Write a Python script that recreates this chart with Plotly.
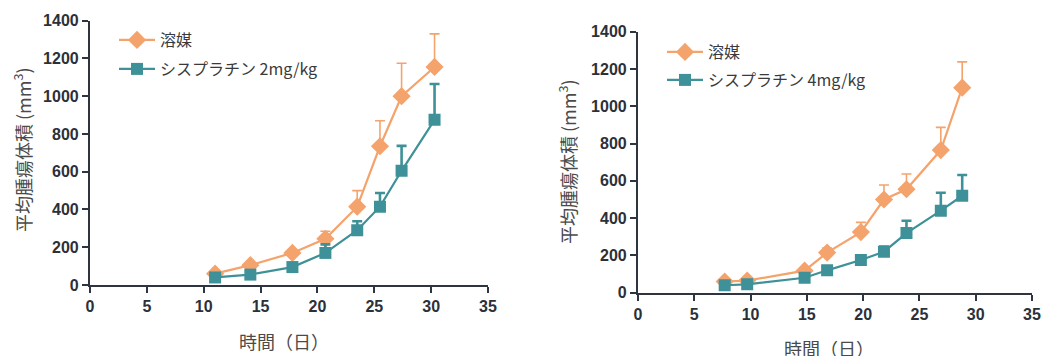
import plotly.graph_objects as go

# Tumour volume (mm^3) over time (days): mean with upper SEM bars
days_a = [11.0, 14.1, 17.8, 20.7, 23.5, 25.5, 27.4, 30.3]
vehicle_a = [60, 105, 170, 245, 415, 735, 1000, 1155]
vehicle_a_err = [0, 0, 0, 40, 85, 135, 175, 175]
cis2_a = [40, 55, 95, 170, 290, 415, 605, 875]
cis2_a_err = [0, 0, 0, 45, 48, 72, 132, 190]

days_b = [7.7, 9.7, 14.8, 16.8, 19.8, 21.85, 23.85, 26.9, 28.8]
vehicle_b = [60, 65, 118, 215, 325, 500, 555, 765, 1100]
vehicle_b_err = [0, 0, 0, 25, 52, 78, 82, 122, 138]
cis4_b = [40, 45, 80, 120, 175, 220, 320, 440, 520]
cis4_b_err = [0, 0, 0, 0, 20, 28, 66, 96, 111]

x_ticks = [0, 5, 10, 15, 20, 25, 30, 35]
y_ticks = [0, 200, 400, 600, 800, 1000, 1200, 1400]

ORANGE = "#F5A36C"
TEAL = "#3E9198"
AXIS = "#2E3440"
W, H = 1044, 356
FONT = "Noto Sans CJK JP, Liberation Sans, sans-serif"
TICKFONT = dict(family="Liberation Sans, Arial, sans-serif", size=16, color="#2C3038", weight="bold")


def px(x):
    return x / W


def py(y):
    return 1 - y / H


def series(x, y, err, color, symbol, size, thick, name, xa, ya, legend):
    return go.Scatter(
        x=x, y=y, name=name, mode="lines+markers",
        xaxis=xa, yaxis=ya, legend=legend, showlegend=True,
        line=dict(color=color, width=2.2),
        marker=dict(color=color, symbol=symbol, size=size),
        error_y=dict(type="data", symmetric=False, array=err,
                     arrayminus=[0] * len(err), color=color,
                     thickness=thick, width=5),
    )


fig = go.Figure()
fig.add_trace(series(days_a, vehicle_a, vehicle_a_err, ORANGE, "diamond", 14, 1.6, "溶媒", "x", "y", "legend"))
fig.add_trace(series(days_a, cis2_a, cis2_a_err, TEAL, "square", 12, 2.6, "シスプラチン 2mg/kg", "x", "y", "legend2"))
fig.add_trace(series(days_b, vehicle_b, vehicle_b_err, ORANGE, "diamond", 14, 1.6, "溶媒", "x2", "y2", "legend3"))
fig.add_trace(series(days_b, cis4_b, cis4_b_err, TEAL, "square", 12, 2.6, "シスプラチン 4mg/kg", "x2", "y2", "legend4"))

axis_common = dict(
    showline=True, linecolor=AXIS, linewidth=2.2, ticks="outside",
    ticklen=6, tickwidth=2.2, tickcolor=AXIS, showgrid=False, zeroline=False,
    tickfont=TICKFONT, automargin=False,
)

fig.update_layout(
    width=W, height=H,
    margin=dict(l=0, r=0, t=0, b=0, autoexpand=False),
    showlegend=True,
    paper_bgcolor="white", plot_bgcolor="white",
    font=dict(family=FONT, color="#333"),
    xaxis=dict(domain=[px(90), px(488)], range=[0, 35], tickvals=x_ticks,
               anchor="y", **axis_common),
    yaxis=dict(domain=[py(285), py(20.7)], range=[0, 1400], tickvals=y_ticks,
               anchor="x", **axis_common),
    xaxis2=dict(domain=[px(638), px(1032)], range=[0, 35], tickvals=x_ticks,
                anchor="y2", **axis_common),
    yaxis2=dict(domain=[py(292.7), py(31.7)], range=[0, 1400], tickvals=y_ticks,
                anchor="x2", **axis_common),
)

legend_style = dict(xanchor="left", yanchor="middle", bgcolor="rgba(0,0,0,0)",
                    borderwidth=0, font=dict(family=FONT, size=16, color="#3A3A3A"),
                    itemsizing="trace", itemwidth=36, visible=True)
fig.update_layout(
    legend=dict(x=px(114), y=py(40), **legend_style),
    legend2=dict(x=px(114), y=py(69), **legend_style),
    legend3=dict(x=px(662), y=py(52), **legend_style),
    legend4=dict(x=px(662), y=py(80), **legend_style),
)

title_font = dict(family=FONT, size=18, color="#4A4A4A")
ytitle = "平均腫瘍体積 (mm<sup>3</sup>)"
centered = dict(xref="paper", yref="paper", showarrow=False, font=title_font,
                xanchor="center", yanchor="middle")
fig.add_annotation(text=ytitle, x=px(22), y=py(150), textangle=-90, **centered)
fig.add_annotation(text=ytitle, x=px(567), y=py(162), textangle=-90, **centered)
fig.add_annotation(text="時間（日）", x=px(284), y=py(341), **centered)
fig.add_annotation(text="時間（日）", x=px(829), y=py(348), **centered)

fig.write_html("out.html")
